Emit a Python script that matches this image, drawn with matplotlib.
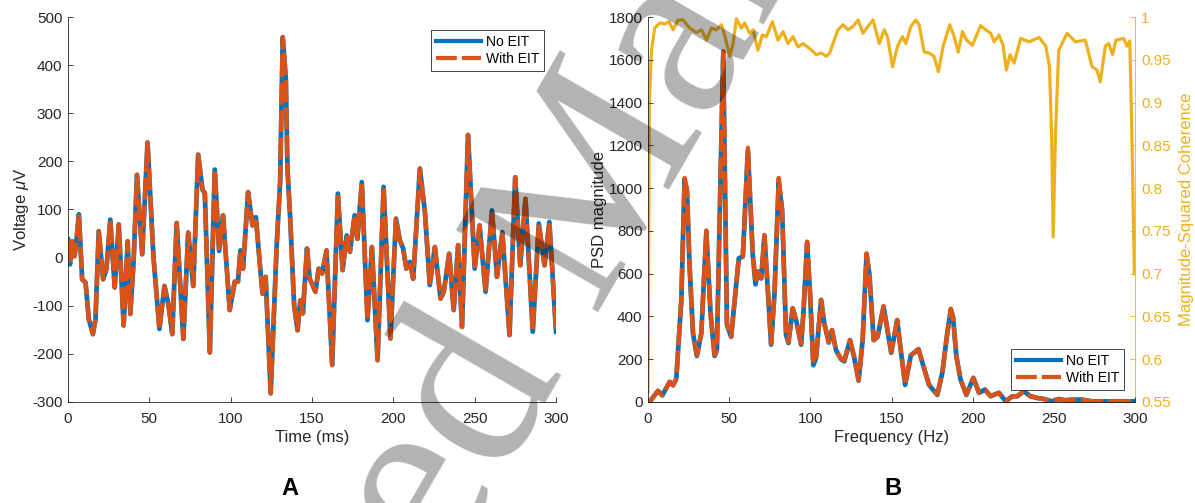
import matplotlib.pyplot as plt
from matplotlib.ticker import FuncFormatter

# Panel A: voltage trace
time_ms = [0, 1.2, 2.6, 4, 5, 6.7, 8.7, 10.8, 12.8, 15.3,
           16.9, 18.9, 21.6, 23.6, 26, 28.7, 31.2, 34.2, 36.7, 38.3,
           40.3, 42.4, 45.6, 48.9, 52.5, 56.2, 59.3, 61.7, 64.1, 66.8,
           70.9, 73.9, 77, 80, 82.7, 84.1, 87.2, 90.2, 92.9, 95.3,
           99.4, 102.5, 104.5, 106, 107.6, 110.7, 113.4, 115.5, 118, 119.6,
           121.5, 124.6, 128.3, 130.4, 132, 133.9, 134.9, 136.6, 139, 141.1,
           142.8, 144.4, 146.9, 148.6, 152.1, 154.1, 156.2, 158.9, 162.4, 165.9,
           168.8, 171.3, 173.3, 176.2, 177.9, 180.6, 184.1, 186.8, 190.3, 194,
           198.2, 201.6, 204, 206, 208, 210.2, 212.2, 216.3, 219.4, 222.4,
           225.5, 229, 231, 234.3, 237.1, 239.8, 242.2, 245.9, 250, 253,
           256.7, 260.6, 263.7, 267, 271.4, 274.9, 278, 281.2, 285.7, 289.4,
           292.9, 295.9, 300]
volt_no_eit = [38, -14, 34, 3, 28, 90, -45, -52, -128, -159,
               -128, 55, -45, -24, 79, -62, 69, -141, 34, -117,
               -10, 172, 7, 239, 3, -148, -59, -97, -159, 72,
               -169, 52, -59, 214, 141, 134, -197, 183, 14, 88,
               -109, -50, -50, 15, -23, 136, 67, 84, -16, -75,
               -40, -282, 26, 157, 458, 371, 185, 81, -99, -151,
               -89, -116, 19, -44, -71, -23, -33, 15, -223, 133,
               -26, 46, 12, 88, 39, 157, -130, 22, -213, 147,
               -168, 81, 36, 19, -23, -9, -44, 185, 95, -57,
               22, -85, -71, 8, -109, 26, -144, 255, -23, 67,
               -71, 98, -40, 53, -161, 167, -16, 122, -154, 71,
               -16, 74, -154]
volt_with_eit = list(volt_no_eit)  # the two traces overlap in the figure

# Panel B: PSD
freq_psd = [0, 2, 6.1, 8.8, 13.3, 15.4, 17.4, 20.5, 22.5, 24,
            25.6, 27.7, 30.1, 32.8, 35.9, 38.5, 41, 42.4, 44, 46.3,
            48.6, 51.2, 53.7, 55.9, 58.4, 61.5, 64.5, 66.2, 67.8, 69.7,
            71.7, 73.8, 75.8, 77.9, 80.5, 82.6, 85, 86.5, 89.1, 91.2,
            94.3, 95.7, 98, 99.8, 101.8, 103.5, 106.6, 108.6, 111.3, 113.3,
            115.8, 118.9, 120.9, 124.4, 127, 129.7, 132.2, 134.6, 136.3, 139,
            141.4, 145.1, 149.8, 153.5, 155.7, 158.4, 161.9, 164, 166.6, 169,
            173.1, 178.2, 181.3, 184.4, 186.5, 187.9, 189.9, 192.5, 196.1, 200.4,
            203.9, 207.6, 211, 216.2, 220.3, 224.4, 227.5, 231.5, 235.6, 239.7,
            243.8, 248.9, 253, 257.1, 261.2, 267.4, 273.5, 285.8, 300]
psd_no_eit = [0, 11, 52, 31, 94, 78, 109, 477, 1040, 985,
              633, 320, 215, 320, 795, 414, 215, 242, 820, 1620,
              360, 305, 500, 672, 680, 1175, 690, 550, 610, 578,
              775, 523, 268, 508, 1030, 898, 315, 276, 438, 383,
              268, 414, 745, 508, 172, 205, 477, 367, 278, 336,
              242, 200, 190, 289, 208, 100, 289, 690, 602, 289,
              305, 445, 230, 383, 242, 80, 218, 231, 247, 184,
              80, 33, 137, 326, 430, 397, 216, 106, 33, 113,
              43, 58, 27, 43, 3, 27, 27, 50, 27, 19,
              14, 3, 14, 8, 11, 11, 3, 3, 3]
psd_with_eit = [0, 11, 52, 31, 94, 78, 109, 477, 1047, 992,
                633, 320, 219, 320, 802, 414, 219, 242, 820, 1640,
                367, 305, 500, 672, 680, 1188, 695, 555, 610, 578,
                781, 523, 273, 508, 1047, 898, 320, 281, 438, 383,
                273, 414, 750, 508, 180, 211, 477, 367, 281, 336,
                242, 203, 195, 289, 211, 102, 289, 695, 602, 289,
                305, 448, 234, 383, 242, 82, 218, 231, 247, 184,
                82, 35, 137, 326, 436, 397, 216, 106, 35, 113,
                43, 58, 27, 43, 3, 27, 27, 50, 27, 19,
                14, 3, 14, 8, 11, 11, 3, 3, 3]

# Panel B: magnitude-squared coherence
freq_coh = [0, 0.8, 2.1, 4.1, 7.2, 10.3, 12.9, 15.4, 18.5, 21.6,
            25.7, 29.8, 32.9, 36, 39, 42.1, 45.2, 47.2, 50.3, 52.4,
            54.4, 57.5, 59.5, 62.6, 64.7, 67.7, 70.4, 72.9, 76.6, 80.1,
            83.2, 86.2, 89.3, 92.4, 95.5, 99.6, 103.7, 106.8, 109.8, 111.9,
            117, 120.1, 123.2, 126.3, 129.4, 132.4, 135.5, 138.6, 142.5, 145.5,
            147.5, 150.6, 153.7, 156.7, 158.8, 161.9, 165, 167, 170.1, 173.1,
            176.2, 178.9, 181.8, 185.9, 188.6, 191.1, 193.7, 196.2, 199.8, 204.9,
            208, 211.1, 213.2, 216.2, 218.7, 220.7, 223, 225.5, 229.6, 234.7,
            240.9, 245, 247.3, 248.6, 249.6, 251, 253, 258.1, 263.3, 269.4,
            273.5, 276.6, 278.6, 281.7, 283.8, 286.2, 288.3, 293, 295, 296.8,
            298.2, 299.6]
coherence = [0.562, 0.9, 0.961, 0.987, 0.993, 0.992, 0.9945, 0.985, 0.9965, 0.9965,
             0.987, 0.982, 0.985, 0.973, 0.987, 0.985, 0.991, 0.979, 0.954, 0.969,
             0.998, 0.987, 0.993, 0.981, 0.985, 0.961, 0.979, 0.977, 0.9945, 0.973,
             0.983, 0.969, 0.977, 0.965, 0.969, 0.963, 0.956, 0.958, 0.954, 0.958,
             0.985, 0.991, 0.985, 0.989, 0.9965, 0.981, 0.989, 0.9965, 0.969, 0.985,
             0.977, 0.942, 0.966, 0.977, 0.969, 0.989, 0.9965, 0.991, 0.959, 0.958,
             0.954, 0.936, 0.966, 0.991, 0.977, 0.959, 0.983, 0.973, 0.967, 0.990,
             0.985, 0.981, 0.971, 0.979, 0.967, 0.938, 0.956, 0.946, 0.975, 0.971,
             0.976, 0.966, 0.942, 0.864, 0.743, 0.864, 0.961, 0.981, 0.971, 0.973,
             0.942, 0.938, 0.924, 0.966, 0.969, 0.956, 0.973, 0.975, 0.966, 0.972,
             0.85, 0.70]

BLUE = '#0072BD'
ORANGE = '#D95319'
YELLOW = '#EDB120'
DARK = '#262626'

plt.rcParams['font.family'] = ['Liberation Sans', 'DejaVu Sans']
plt.rcParams['font.size'] = 11
plt.rcParams['axes.labelsize'] = 12
plt.rcParams['legend.fontsize'] = 10
plt.rcParams['axes.unicode_minus'] = False
plt.rcParams['axes.edgecolor'] = DARK
plt.rcParams['axes.linewidth'] = 0.6
plt.rcParams['xtick.direction'] = 'in'
plt.rcParams['ytick.direction'] = 'in'
plt.rcParams['xtick.color'] = DARK
plt.rcParams['ytick.color'] = DARK
plt.rcParams['xtick.major.size'] = 3.5
plt.rcParams['ytick.major.size'] = 3.5
plt.rcParams['xtick.major.width'] = 0.6
plt.rcParams['ytick.major.width'] = 0.6
plt.rcParams['xtick.major.pad'] = 7
plt.rcParams['ytick.major.pad'] = 4
plt.rcParams['mathtext.fontset'] = 'custom'
plt.rcParams['mathtext.it'] = 'Liberation Sans:italic'
plt.rcParams['mathtext.rm'] = 'Liberation Sans'


def trim(v, pos):
    return '%g' % round(v, 4)


fig = plt.figure(figsize=(11.95, 5.03), dpi=100)
axA = fig.add_axes([0.0569, 0.2008, 0.4084, 0.7654])
axB = fig.add_axes([0.5423, 0.2008, 0.4075, 0.7654])

leg_kw = dict(fancybox=False, edgecolor=DARK, framealpha=1, handlelength=3.2,
              borderpad=0.35, labelspacing=0.25, borderaxespad=0, handletextpad=0.35)

# --- Panel A
axA.plot(time_ms, volt_no_eit, color=BLUE, lw=3.4, label='No EIT', solid_joinstyle='round')
axA.plot(time_ms, volt_with_eit, color=ORANGE, lw=3.2, ls=(0, (5, 1.2)), label='With EIT')
axA.set_xlim(0, 300)
axA.set_ylim(-300, 500)
axA.set_xticks(range(0, 301, 50))
axA.set_yticks(range(-300, 501, 100))
axA.spines['top'].set_visible(False)
axA.spines['right'].set_visible(False)
axA.set_xlabel('Time (ms)', color=DARK, labelpad=3)
axA.set_ylabel(r'Voltage $\mu$V', color=DARK, labelpad=1)
legA = axA.legend(loc='upper right', bbox_to_anchor=(0.975, 0.967), **leg_kw)
legA.get_frame().set_linewidth(0.6)
for h in legA.legend_handles:
    h.set_linewidth(3)

# --- Panel B
axC = axB.twinx()
axB.set_zorder(2)
axB.patch.set_visible(False)
axC.plot(freq_coh, coherence, color=YELLOW, lw=2.3)
axC.set_ylim(0.55, 1)
axC.set_yticks([0.55, 0.6, 0.65, 0.7, 0.75, 0.8, 0.85, 0.9, 0.95, 1])
axC.yaxis.set_major_formatter(FuncFormatter(trim))
axC.tick_params(axis='y', colors=YELLOW, pad=4.5)
axC.spines['right'].set_color(YELLOW)
axC.spines['top'].set_visible(False)
axC.spines['left'].set_visible(False)
axC.set_ylabel('Magnitude-Squared Coherence', color=YELLOW, labelpad=6)

axB.plot(freq_psd, psd_no_eit, color=BLUE, lw=3.4, label='No EIT')
axB.plot(freq_psd, psd_with_eit, color=ORANGE, lw=3.2, ls=(0, (5, 1.2)), label='With EIT')
axB.set_xlim(0, 300)
axB.set_ylim(0, 1800)
axB.set_xticks(range(0, 301, 50))
axB.set_yticks(range(0, 1801, 200))
axB.spines['top'].set_visible(False)
axB.spines['right'].set_visible(False)
axB.set_xlabel('Frequency (Hz)', color=DARK, labelpad=3)
axB.set_ylabel('PSD magnitude', color=DARK, labelpad=1)
legB = axB.legend(loc='lower right', bbox_to_anchor=(0.977, 0.031), **leg_kw)
legB.get_frame().set_linewidth(0.6)
for h in legB.legend_handles:
    h.set_linewidth(3)

fig.text(0.2427, 0.006, 'A', fontsize=17, fontweight='bold', ha='center', va='bottom')
fig.text(0.7473, 0.006, 'B', fontsize=17, fontweight='bold', ha='center', va='bottom')

# watermark
fig.text(628 / 1195, 1 - 261 / 503, 'Accepted Manuscript', family=['Liberation Serif', 'DejaVu Serif'],
         fontsize=180, color='black', alpha=0.3, rotation=60, rotation_mode='anchor',
         ha='center', va='baseline', zorder=20)

fig.savefig('out.png', dpi=100)
